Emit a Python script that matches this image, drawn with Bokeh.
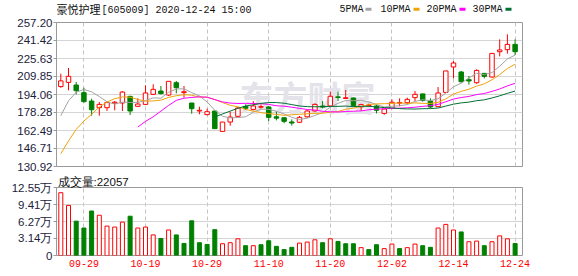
import math
from bokeh.plotting import figure
from bokeh.models import Range1d, FixedTicker, ColumnDataSource, NumeralTickFormatter, Title
from bokeh.layouts import column
from bokeh.core.properties import value
from bokeh.embed import file_html
from bokeh.resources import INLINE

nan = float("nan")

opens = [201.0, 204.7, 202.4, 195.7, 188.3, 182.5, 182.5, 186.5, 186.6, 192.4,
         183.7, 185.4, 194.2, 197.1, 193.6, 204.4, 195.7, 186.6, 179.6, 176.4,
         179.6, 161.7, 169.9, 174.9, 183.5, 181.0, 182.9, 183.1, 174.5, 173.7,
         170.0, 169.7, 174.5, 179.6, 184.0, 184.0, 192.0, 190.6, 191.0, 183.3,
         184.3, 184.0, 177.5, 181.9, 186.5, 186.9, 191.3, 194.6, 188.3, 183.4,
         195.9, 218.2, 213.8, 207.1, 204.4, 212.6, 209.4, 231.6, 233.4, 238.0]
highs = [212.3, 217.3, 205.0, 200.0, 190.4, 187.5, 188.3, 188.3, 197.1, 193.0,
         190.7, 202.1, 203.0, 201.5, 205.6, 205.9, 201.5, 186.6, 183.4, 181.6,
         179.6, 169.9, 179.0, 183.1, 185.4, 188.3, 185.4, 184.0, 179.0, 173.7,
         172.3, 175.2, 180.5, 186.3, 188.3, 196.5, 196.5, 198.0, 191.3, 186.0,
         186.0, 184.9, 181.6, 189.8, 190.7, 191.3, 197.1, 194.8, 190.7, 200.6,
         214.7, 223.4, 214.7, 210.3, 216.1, 212.6, 230.1, 242.4, 246.8, 242.4]
lows = [200.0, 197.7, 194.2, 186.9, 175.5, 175.5, 179.6, 180.2, 179.6, 176.1,
        183.4, 184.8, 193.6, 194.2, 192.7, 195.1, 191.3, 177.2, 176.7, 175.8,
        164.1, 161.7, 166.7, 174.3, 180.5, 180.2, 181.6, 170.8, 171.4, 168.8,
        166.8, 169.3, 173.7, 179.0, 181.9, 183.1, 188.3, 190.0, 183.7, 179.6,
        183.7, 177.5, 176.3, 181.9, 183.7, 185.4, 188.4, 187.8, 181.9, 183.1,
        195.7, 208.2, 204.4, 202.7, 203.5, 208.2, 208.8, 227.5, 229.9, 228.7]
closes = [206.0, 210.0, 197.4, 187.8, 180.7, 185.4, 187.0, 187.3, 196.2, 179.6,
          185.7, 195.4, 198.6, 194.8, 205.6, 200.0, 196.5, 181.6, 180.2, 179.0,
          164.1, 169.9, 174.3, 182.2, 182.0, 184.0, 183.4, 174.0, 173.3, 170.5,
          169.0, 174.0, 179.6, 185.4, 183.0, 192.5, 191.4, 191.2, 184.2, 185.2,
          184.8, 180.2, 181.3, 187.3, 187.0, 189.8, 194.2, 188.9, 183.1, 195.4,
          214.7, 221.7, 205.3, 205.9, 215.2, 210.0, 230.1, 233.1, 238.0, 231.6]

# volume in units of 10,000 (万)
volumes = [11.59, 9.24, 6.34, 5.07, 8.21, 7.43, 5.43, 5.25, 6.16, 7.25,
           5.07, 5.25, 3.80, 3.14, 4.71, 3.80, 2.23, 6.40, 2.36, 2.05,
           4.77, 2.17, 2.36, 3.08, 1.81, 1.81, 1.99, 2.72, 1.69, 1.09,
           1.51, 2.29, 2.48, 2.90, 2.36, 3.08, 2.60, 2.17, 2.17, 1.45,
           1.09, 1.99, 1.27, 2.11, 1.27, 1.45, 2.11, 1.81, 1.51, 5.07,
           5.74, 4.71, 4.35, 2.54, 2.66, 1.81, 2.54, 3.62, 3.08, 2.2057]

ma5 = [175.5, 188.5, 196.0, 198.5, 196.4, 192.3, 187.7, 185.6, 187.3, 187.1,
       187.1, 188.8, 191.1, 190.8, 196.0, 198.9, 199.1, 195.7, 192.8, 187.5,
       180.3, 175.0, 173.5, 173.9, 174.5, 178.5, 181.2, 181.1, 179.3, 177.0,
       174.0, 172.2, 173.3, 175.7, 178.2, 182.9, 186.3, 188.8, 188.6, 189.0,
       187.5, 185.3, 183.1, 183.7, 184.2, 185.2, 188.0, 189.5, 188.7, 190.3,
       195.3, 200.8, 204.0, 208.6, 212.6, 211.6, 213.3, 218.9, 225.3, 228.6]
ma10 = [142.2, 153.3, 163.5, 170.8, 176.7, 183.1, 187.5, 190.4, 191.9, 191.7,
        189.7, 188.2, 188.4, 189.1, 191.5, 193.0, 193.9, 193.4, 191.8, 191.7,
        189.6, 187.0, 184.6, 183.3, 181.0, 179.4, 178.1, 177.3, 176.6, 175.8,
        176.3, 176.7, 177.2, 177.5, 177.6, 178.5, 179.2, 181.1, 182.1, 183.6,
        185.2, 185.8, 186.0, 186.2, 186.6, 186.3, 186.7, 186.3, 186.2, 187.2,
        190.2, 194.4, 196.8, 198.7, 201.4, 203.4, 207.0, 211.5, 216.9, 220.6]
ma20 = [nan, nan, nan, nan, nan, nan, nan, nan, nan, nan,
        165.5, 170.5, 174.5, 179.5, 184.5, 188.9, 190.8, 191.5, 192.0, 191.7,
        189.6, 187.6, 186.5, 186.2, 186.3, 186.2, 186.0, 185.4, 184.2, 183.8,
        182.9, 181.9, 180.9, 180.4, 179.3, 178.9, 178.7, 179.2, 179.4, 179.7,
        180.7, 181.2, 181.6, 181.8, 182.1, 182.4, 182.9, 183.7, 184.2, 185.4,
        187.7, 190.1, 191.4, 192.4, 194.0, 194.9, 196.8, 198.9, 201.6, 203.9]
ma30 = [nan, nan, nan, nan, nan, nan, nan, nan, nan, nan,
        nan, nan, nan, nan, nan, nan, nan, nan, nan, nan,
        174.3, 177.0, 179.5, 182.0, 184.0, 185.0, 186.3, 187.0, 187.0, 186.4,
        185.2, 184.0, 183.4, 183.3, 183.4, 183.6, 183.7, 183.9, 183.5, 183.7,
        183.7, 183.2, 182.6, 182.3, 181.7, 181.4, 181.3, 181.6, 181.7, 182.2,
        183.9, 185.6, 186.7, 187.4, 188.6, 189.4, 191.0, 192.9, 195.1, 197.1]

price_ticks = [130.92, 146.71, 162.49, 178.28, 194.06, 209.85, 225.63, 241.42, 257.20]
vol_ticks = [0, 3.14, 6.27, 9.41, 12.55]
vol_tick_labels = ["0", "3.14万", "6.27万", "9.41万", "12.55万"]
date_ticks = [3, 11, 19, 27, 35, 43, 51, 59]
date_labels = ["09-29", "10-19", "10-29", "11-10", "11-20", "12-02", "12-14", "12-24"]

title_name = "豪悦护理"
title_rest = "[605009] 2020-12-24 15:00"
vol_title = "成交量:22057"
ma_names = ["5PMA", "10PMA", "20PMA", "30PMA"]
ma_colors = ["#a3a3a3", "#f0a30a", "#ff00ff", "#006f35"]

RED = "#ff0000"
GREEN = "#008000"
GRID_H = "#d4d4d4"
GRID_V = "#c4c4c4"
FRAME = "#9a9a9a"
LABEL = "#1c1c3c"
W = 578
FL, FR = 56, 522   # frame edges in page pixels (frames are aligned by the column)

n = len(closes)
idx = list(range(n))
up = [c >= o for o, c in zip(opens, closes)]
vol_up = [True] + [closes[i] >= closes[i - 1] for i in range(1, n)]

xr = Range1d(-0.56, n - 0.04)

# ---------------- header strip (title + MA legend) ----------------
HH = 16
hdr = figure(width=W, height=HH, x_range=Range1d(FL, FR), y_range=Range1d(HH, 0),
             output_backend="svg", toolbar_location=None,
             x_axis_location=None, y_axis_location=None, min_border=0,
             min_border_left=FL, min_border_right=W - FR)
hdr.outline_line_color = None
hdr.xgrid.visible = False
hdr.ygrid.visible = False
hdr.text(x=[56], y=[8.2], text=[title_name], text_font=value("Noto Sans CJK SC"),
         text_font_size="11px", text_color="#111111", text_baseline="middle")
hdr.text(x=[101], y=[10], text=[title_rest], text_font=value("Liberation Mono"),
         text_font_size="10px", text_color="#111111", text_baseline="middle")
leg_text_x = [339, 380, 426, 472]
leg_mark_x = [368, 416, 462, 508]
hdr.text(x=leg_text_x, y=[9.3] * 4, text=ma_names, text_font=value("Liberation Mono"),
         text_font_size="10px", text_color="#111111", text_baseline="middle")
hdr.rect(x=leg_mark_x, y=[8.8] * 4, width=6, height=3, fill_color=ma_colors,
         line_color=None)

# ---------------- price panel ----------------
p1 = figure(width=W, height=157, x_range=xr, y_range=Range1d(130.92, 257.20),
            output_backend="svg", toolbar_location=None, x_axis_location=None,
            min_border_left=FL, min_border_right=W - FR, min_border_top=6,
            min_border_bottom=7)
p1.outline_line_color = FRAME

p1.yaxis.ticker = FixedTicker(ticks=price_ticks)
p1.yaxis.formatter = NumeralTickFormatter(format="0.00")
p1.yaxis.major_label_text_font = "Liberation Sans"
p1.yaxis.major_label_text_font_size = "11.5px"
p1.yaxis.major_label_text_color = LABEL
p1.yaxis.major_tick_out = 3
p1.yaxis.major_tick_in = 0
p1.yaxis.minor_tick_line_color = None
p1.yaxis.major_tick_line_color = FRAME
p1.yaxis.axis_line_color = FRAME
p1.yaxis.major_label_standoff = 1

p1.ygrid.ticker = FixedTicker(ticks=price_ticks)
p1.ygrid.grid_line_color = GRID_H
p1.xgrid.ticker = FixedTicker(ticks=date_ticks)
p1.xgrid.grid_line_color = GRID_V
p1.xgrid.grid_line_dash = "4 3"

# watermark
p1.text(x=[23.2], y=[192.5], text=["东方财富"], text_font=value("Noto Sans CJK SC"),
        text_font_size="34px", text_font_style="bold", text_color="#e3e3e9",
        text_align="left", text_baseline="middle")

csrc = ColumnDataSource(dict(
    x=idx, o=opens, h=highs, l=lows, c=closes,
    top=[max(o, c) for o, c in zip(opens, closes)],
    bot=[min(o, c) for o, c in zip(opens, closes)],
    col=[RED if u else GREEN for u in up],
    fill=["white" if u else GREEN for u in up],
))
p1.segment(x0="x", y0="h", x1="x", y1="l", color="col", line_width=1, source=csrc)
p1.vbar(x="x", top="top", bottom="bot", width=0.58, fill_color="fill",
        line_color="col", line_width=1, source=csrc)

for vals, col in zip([ma5, ma10, ma20, ma30], ma_colors):
    p1.line(x=idx, y=vals, line_color=col, line_width=1)

# ---------------- volume panel ----------------
p2 = figure(width=W, height=103, x_range=xr, y_range=Range1d(0, 12.55),
            output_backend="svg", toolbar_location=None,
            min_border_left=FL, min_border_right=W - FR, min_border_top=13,
            min_border_bottom=21)
p2.outline_line_color = FRAME
p2.add_layout(Title(text=vol_title, align="left", offset=1, standoff=0,
                    text_font="Liberation Sans", text_font_size="11.5px",
                    text_font_style="normal", text_color="#111111"), "above")

p2.yaxis.ticker = FixedTicker(ticks=vol_ticks)
p2.yaxis.major_label_overrides = {t: s for t, s in zip(vol_ticks, vol_tick_labels)}
p2.yaxis.major_label_text_font = "Liberation Sans"
p2.yaxis.major_label_text_font_size = "11.5px"
p2.yaxis.major_label_text_color = LABEL
p2.yaxis.major_tick_out = 3
p2.yaxis.major_tick_in = 0
p2.yaxis.minor_tick_line_color = None
p2.yaxis.major_tick_line_color = FRAME
p2.yaxis.axis_line_color = FRAME
p2.yaxis.major_label_standoff = 1

p2.xaxis.ticker = FixedTicker(ticks=date_ticks)
p2.xaxis.major_label_overrides = {t: s for t, s in zip(date_ticks, date_labels)}
p2.xaxis.major_label_text_font = "Liberation Mono"
p2.xaxis.major_label_text_font_size = "10px"
p2.xaxis.major_label_text_color = RED
p2.xaxis.axis_line_color = None
p2.xaxis.major_tick_line_color = None
p2.xaxis.minor_tick_line_color = None
p2.xaxis.major_tick_out = 0
p2.xaxis.major_tick_in = 0
p2.xaxis.major_label_standoff = 4

p2.ygrid.ticker = FixedTicker(ticks=vol_ticks)
p2.ygrid.grid_line_color = GRID_H
p2.xgrid.ticker = FixedTicker(ticks=date_ticks)
p2.xgrid.grid_line_color = GRID_V
p2.xgrid.grid_line_dash = "4 3"

vsrc = ColumnDataSource(dict(
    x=idx, v=volumes,
    col=[RED if u else GREEN for u in vol_up],
    fill=["white" if u else GREEN for u in vol_up],
))
p2.vbar(x="x", top="v", bottom=0, width=0.52, fill_color="fill", line_color="col",
        line_width=1, source=vsrc)

layout = column(hdr, p1, p2, spacing=0)
open("out.html", "w").write(file_html(layout, INLINE))
